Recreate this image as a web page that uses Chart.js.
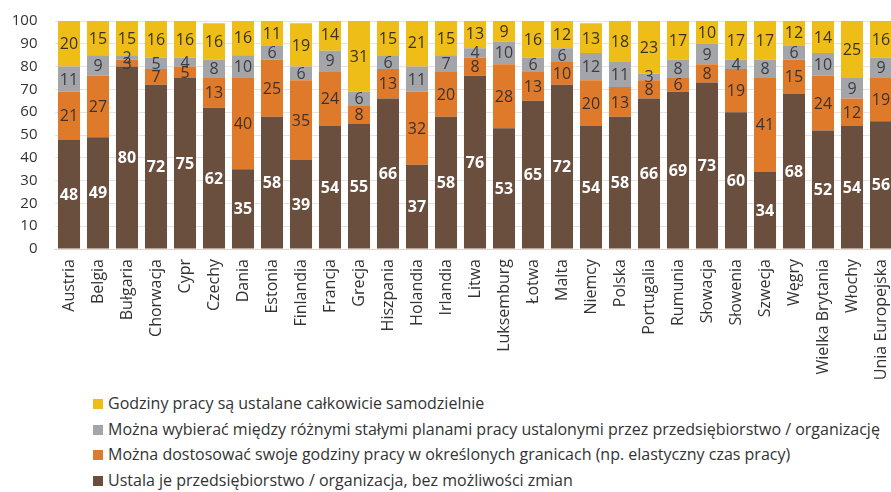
<!DOCTYPE html>
<html>
<head>
<meta charset="utf-8">
<script src="https://cdn.jsdelivr.net/npm/chart.js@4"></script>
<style>
  html, body { margin: 0; padding: 0; background: #fff; overflow: hidden; width: 891px; height: 492px; }
  #wrap { position: absolute; left: 0; top: 0; width: 900px; height: 390px; }
  #legend { position: absolute; left: 93px; top: 391px; font-family: "Open Sans", Lato, sans-serif; font-size: 16px; color: #333; }
  #legend div { height: 25.7px; line-height: 25.7px; white-space: nowrap; display: flex; align-items: center; }
  #legend span.box { display: inline-block; width: 10px; height: 10px; margin-right: 5px; }
</style>
</head>
<body>
<div id="wrap"><canvas id="c" width="900" height="390"></canvas></div>
<div id="legend"></div>
<script>
const categories = ["Austria","Belgia","Bułgaria","Chorwacja","Cypr","Czechy","Dania","Estonia","Finlandia","Francja","Grecja","Hiszpania","Holandia","Irlandia","Litwa","Luksemburg","Łotwa","Malta","Niemcy","Polska","Portugalia","Rumunia","Słowacja","Słowenia","Szwecja","Węgry","Wielka Brytania","Włochy","Unia Europejska"];
const fixedByOrg = [48,49,80,72,75,62,35,58,39,54,55,66,37,58,76,53,65,72,54,58,66,69,73,60,34,68,52,54,56];
const adjustWithinLimits = [21,27,3,7,5,13,40,25,35,24,8,13,32,20,8,28,13,10,20,13,8,6,8,19,41,15,24,12,19];
const chooseFixedPlans = [11,9,2,5,4,8,10,6,6,9,6,6,11,7,4,10,6,6,12,11,3,8,9,4,8,6,10,9,9];
const selfDetermined = [20,15,15,16,16,16,16,11,19,14,31,15,21,15,13,9,16,12,13,18,23,17,10,17,17,12,14,25,16];
const yTicks = [0,10,20,30,40,50,60,70,80,90,100];

const labels = {
  fixed: "Ustala je przedsiębiorstwo / organizacja, bez możliwości zmian",
  adjust: "Można dostosować swoje godziny pracy w określonych granicach (np. elastyczny czas pracy)",
  choose: "Można wybierać między różnymi stałymi planami pracy ustalonymi przez przedsiębiorstwo / organizację",
  self: "Godziny pracy są ustalane całkowicie samodzielnie"
};
const colors = { fixed: "#6a4e3e", adjust: "#e07a2b", choose: "#a4a5a9", self: "#efbd18" };
const FONT = '"Open Sans", Lato, sans-serif';

const datasets = [
  { label: labels.fixed, data: fixedByOrg, backgroundColor: colors.fixed, labelColor: "#ffffff", labelWeight: "bold" },
  { label: labels.adjust, data: adjustWithinLimits, backgroundColor: colors.adjust, labelColor: "#3b3330", labelWeight: "normal" },
  { label: labels.choose, data: chooseFixedPlans, backgroundColor: colors.choose, labelColor: "#3b3d45", labelWeight: "normal" },
  { label: labels.self, data: selfDetermined, backgroundColor: colors.self, labelColor: "#3a3320", labelWeight: "normal" }
].map(d => Object.assign(d, { barPercentage: 0.76, categoryPercentage: 1.0, borderWidth: 0 }));

const valueLabels = {
  id: 'valueLabels',
  afterDatasetsDraw(chart) {
    const ctx = chart.ctx;
    ctx.save();
    chart.data.datasets.forEach((ds, i) => {
      const meta = chart.getDatasetMeta(i);
      meta.data.forEach((bar, j) => {
        const v = ds.data[j];
        const yc = (bar.y + bar.base) / 2;
        ctx.font = ds.labelWeight + ' 16px ' + FONT;
        ctx.fillStyle = ds.labelColor;
        ctx.textAlign = 'center';
        ctx.textBaseline = 'middle';
        ctx.fillText(String(v), bar.x, yc + 1);
      });
    });
    ctx.restore();
  }
};

new Chart(document.getElementById('c'), {
  type: 'bar',
  data: { labels: categories, datasets },
  options: {
    responsive: false,
    animation: false,
    layout: { padding: { top: 21, right: 4.5, left: 0, bottom: 0 } },
    plugins: { legend: { display: false }, tooltip: { enabled: false } },
    scales: {
      x: {
        stacked: true,
        grid: { display: false, drawTicks: false },
        border: { display: true, color: '#e6d3cb', width: 1 },
        ticks: { minRotation: 90, maxRotation: 90, autoSkip: false, padding: 10, color: '#333', font: { family: FONT, size: 16 } },
        afterFit(scale) { scale.height = 141; scale.paddingLeft = 0; scale.paddingRight = 0; }
      },
      y: {
        stacked: true,
        min: 0, max: 100,
        afterBuildTicks(scale) { scale.ticks = yTicks.map(v => ({ value: v })); },
        grid: { color: '#e4e4e4', drawTicks: false },
        border: { display: false },
        ticks: { padding: 17, color: '#333', font: { family: FONT, size: 15 } },
        afterFit(scale) { scale.width = 54.5; scale.paddingTop = 0; scale.paddingBottom = 0; }
      }
    }
  },
  plugins: [valueLabels]
});

const legendEl = document.getElementById('legend');
datasets.slice().reverse().forEach(d => {
  const row = document.createElement('div');
  const box = document.createElement('span');
  box.className = 'box';
  box.style.background = d.backgroundColor;
  row.appendChild(box);
  row.appendChild(document.createTextNode(d.label));
  legendEl.appendChild(row);
});
</script>
</body>
</html>
